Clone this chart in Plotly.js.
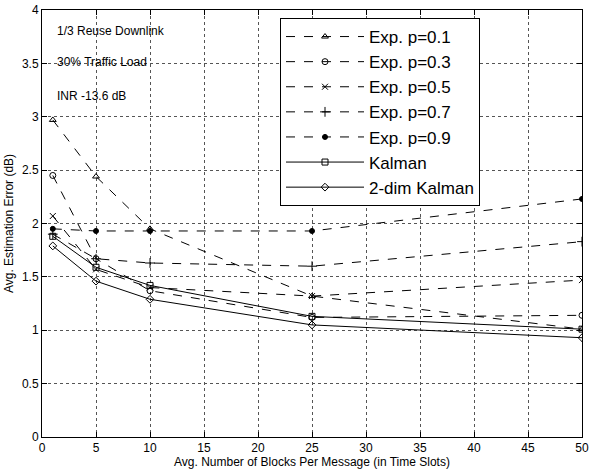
<!DOCTYPE html>
<html>
<head>
<meta charset="utf-8">
<script src="https://cdn.plot.ly/plotly-3.0.1.min.js"></script>
<style>html,body{margin:0;padding:0;background:#fff;}#chart{width:596px;height:470px;}</style>
</head>
<body>
<div id="chart"></div>
<script>
const blocks = [1, 5, 10, 25, 50];
const expP01 = [2.97, 2.44, 1.95, 1.32, 1.01];
const expP03 = [2.45, 1.67, 1.37, 1.12, 1.14];
const expP05 = [2.07, 1.57, 1.40, 1.32, 1.47];
const expP07 = [1.90, 1.67, 1.63, 1.60, 1.83];
const expP09 = [1.95, 1.93, 1.93, 1.93, 2.23];
const kalman = [1.88, 1.59, 1.42, 1.13, 1.01];
const kalman2d = [1.79, 1.46, 1.29, 1.05, 0.93];
const seriesNames = ['Exp. p=0.1', 'Exp. p=0.3', 'Exp. p=0.5', 'Exp. p=0.7', 'Exp. p=0.9', 'Kalman', '2-dim Kalman'];
const notes = ['1/3 Reuse Downlink', '30% Traffic Load', 'INR -13.6 dB'];
const xTicks = [0, 5, 10, 15, 20, 25, 30, 35, 40, 45, 50];
const yTicks = [0, 0.5, 1, 1.5, 2, 2.5, 3, 3.5, 4];

const allY = [expP01, expP03, expP05, expP07, expP09, kalman, kalman2d];
const symbols = ['triangle-up-open', 'circle-open', 'x-thin-open', 'cross-thin-open', 'circle', 'square-open', 'diamond-open'];
const sizes = [6, 6, 6, 7, 5, 6, 6];
const dashes = ['dash', 'dash', 'dash', 'dash', 'dash', 'solid', 'solid'];

const traces = allY.map((ys, i) => ({
  x: blocks, y: ys, name: seriesNames[i], type: 'scatter', mode: 'lines+markers',
  line: {color: '#000', width: 1, dash: dashes[i]},
  marker: {symbol: symbols[i], size: sizes[i], color: '#000', line: {color: '#000', width: 1}}
}));

const font = 'Liberation Sans, Arial, Helvetica, sans-serif';
const annotations = notes.map((t, i) => ({
  text: t, xref: 'paper', yref: 'paper', x: 13/540, y: (427 - [21, 52, 86][i]) / 427,
  xanchor: 'left', yanchor: 'middle', showarrow: false, font: {family: font, size: 12, color: '#000'}
}));

const axisCommon = {
  showline: true, linecolor: '#000', linewidth: 1, mirror: 'ticks',
  ticks: 'inside', ticklen: 5, tickcolor: '#000', tickwidth: 1,
  showgrid: true, gridcolor: '#555', gridwidth: 1, griddash: 'dot',
  zeroline: false, tickfont: {family: font, size: 12, color: '#000'}
};

const layout = {
  width: 596, height: 470,
  margin: {l: 42, r: 14, t: 10, b: 33},
  paper_bgcolor: '#fff', plot_bgcolor: '#fff',
  showlegend: true,
  xaxis: Object.assign({}, axisCommon, {
    range: [0, 50], tickvals: xTicks, ticktext: xTicks.map(String),
    title: {text: 'Avg. Number of Blocks Per Message (in Time Slots)', font: {family: font, size: 12, color: '#000'}, standoff: 2}
  }),
  yaxis: Object.assign({}, axisCommon, {
    range: [0, 4], tickvals: yTicks, ticktext: yTicks.map(String),
    title: {text: 'Avg. Estimation Error (dB)', font: {family: font, size: 12, color: '#000'}, standoff: 5}
  }),
  legend: {
    x: (280 - 42) / 540, y: (437 - 18) / 427, xanchor: 'left', yanchor: 'top',
    bgcolor: '#fff', bordercolor: '#000', borderwidth: 1,
    font: {family: font, size: 17, color: '#000'}, itemwidth: 78, tracegroupgap: 0
  },
  annotations: annotations
};

Plotly.newPlot('chart', traces, layout, {displayModeBar: false, staticPlot: true});
</script>
</body>
</html>
